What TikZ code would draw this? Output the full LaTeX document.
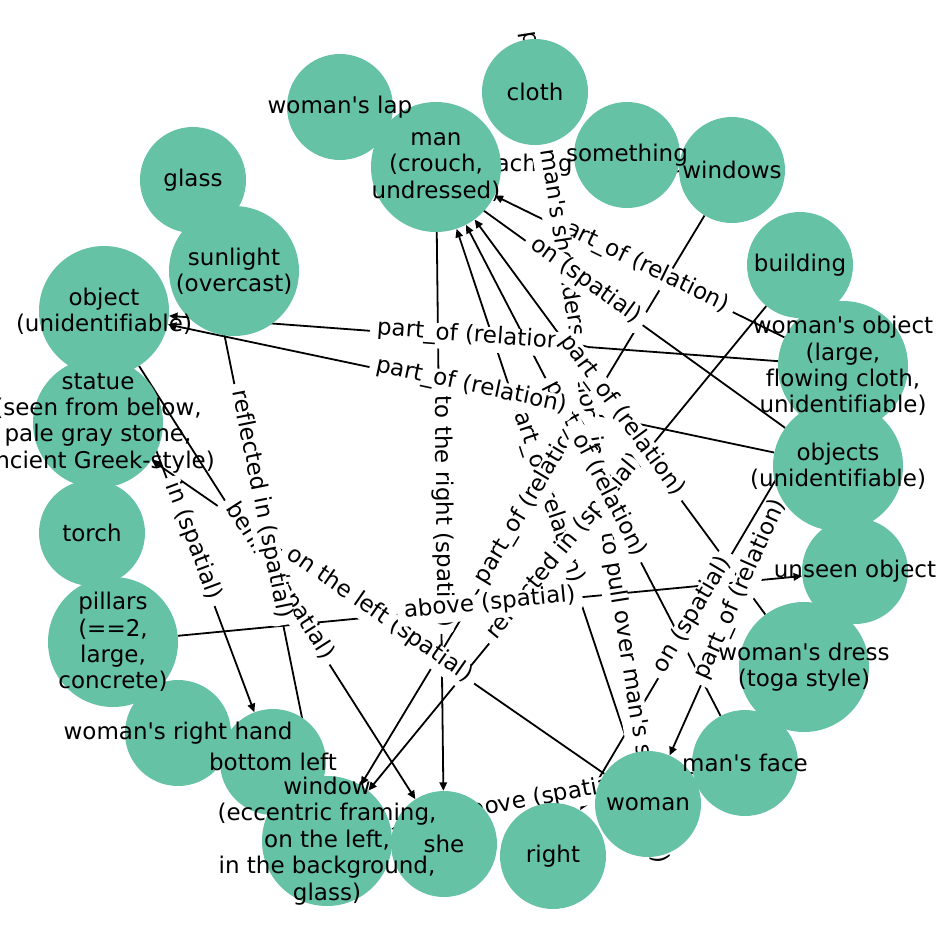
\documentclass[tikz,border=0pt]{standalone}
\usepackage{fontspec}
\setmainfont{DejaVu Sans}[Ligatures={TeXOff,CommonOff}]
\usetikzlibrary{arrows.meta}
\definecolor{nodegreen}{HTML}{66C2A5}
\begin{document}
\begin{tikzpicture}[x=1pt,y=-1pt,
  font=\fontsize{23pt}{26.4pt}\selectfont,
  vtx/.style={circle,inner sep=0pt,minimum size=#1,draw=none},
  edge/.style={line width=1.8pt,-{Triangle[length=8.5pt,width=7.5pt]}},
  elabel/.style={fill=white,rounded corners=6pt,inner sep=6.8pt,sloped,midway,
    text height=0.93em,text depth=0.24em},
  vtext/.style={align=center,inner sep=0pt}]
\useasboundingbox (0,0) rectangle (948,948);
% ---- named (invisible) vertices ----
\node[vtx=106pt] (lap) at (340,107) {};
\node[vtx=130pt] (man) at (436,167) {};
\node[vtx=106pt] (cloth) at (535,92) {};
\node[vtx=106pt] (something) at (627,155) {};
\node[vtx=106pt] (windows) at (732,170) {};
\node[vtx=106pt] (building) at (800,265) {};
\node[vtx=130pt] (wobj) at (843,366) {};
\node[vtx=130pt] (objs) at (838,466) {};
\node[vtx=106pt] (unseen) at (855,571) {};
\node[vtx=130pt] (dress) at (804,667) {};
\node[vtx=106pt] (face) at (745,763) {};
\node[vtx=106pt] (woman) at (648,804) {};
\node[vtx=106pt] (right) at (553,856) {};
\node[vtx=106pt] (she) at (444,844) {};
\node[vtx=130pt] (window) at (327,841) {};
\node[vtx=106pt] (bleft) at (273,762) {};
\node[vtx=106pt] (hand) at (178,733) {};
\node[vtx=130pt] (pillars) at (113,642) {};
\node[vtx=106pt] (torch) at (92,533) {};
\node[vtx=130pt] (statue) at (98,423) {};
\node[vtx=130pt] (object) at (104,311) {};
\node[vtx=106pt] (glass) at (193,180) {};
\node[vtx=130pt] (sunlight) at (234,271) {};
% ---- edges ----
\foreach \s/\t in {wobj/man, man/windows, cloth/woman, objs/lap, object/she,
  object/bleft, woman/statue, glass/window, man/she, woman/man, windows/window,
  building/window, face/man, wobj/object, objs/object, dress/man, pillars/unseen,
  face/window, wobj/right, wobj/woman}
  \draw[edge] (\s) -- (\t);
% ---- edge labels ----
\path (wobj) -- (man) node[elabel] {part\_of (relation)};
\path (man) -- (windows) node[elabel] {reaching for (action)};
\path (cloth) -- (woman) node[elabel] {placed on man's shoulders (action, in order to pull over man's shoulders)};
\path (objs) -- (lap) node[elabel] {on (spatial)};
\path (object) -- (she) node[elabel] {behind (spatial)};
\path (object) -- (bleft) node[elabel] {in (spatial)};
\path (woman) -- (statue) node[elabel] {on the left (spatial)};
\path (glass) -- (window) node[elabel] {reflected in (spatial)};
\path (man) -- (she) node[elabel] {to the right (spatial)};
\path (woman) -- (man) node[elabel] {part\_of (relation)};
\path (windows) -- (window) node[elabel] {part\_of (relation)};
\path (building) -- (window) node[elabel] {reflected in (spatial)};
\path (face) -- (man) node[elabel] {part\_of (relation)};
\path (wobj) -- (object) node[elabel] {part\_of (relation)};
\path (objs) -- (object) node[elabel] {part\_of (relation)};
\path (dress) -- (man) node[elabel] {part\_of (relation)};
\path (pillars) -- (unseen) node[elabel] {above (spatial)};
\path (face) -- (window) node[elabel] {above (spatial)};
\path (wobj) -- (right) node[elabel] {on (spatial)};
\path (wobj) -- (woman) node[elabel] {part\_of (relation)};
% ---- vertex discs ----
\foreach \n/\r in {lap/53, man/65, cloth/53, something/53, windows/53, building/53,
  wobj/65, objs/65, unseen/53, dress/65, face/53, woman/53, right/53, she/53,
  window/65, bleft/53, hand/53, pillars/65, torch/53, statue/65, object/65,
  glass/53, sunlight/65}
  \fill[nodegreen] (\n.center) circle[radius=\r pt];
% ---- vertex texts ----
\node[vtext] at (lap) {woman's lap};
\node[vtext] at (man) {man\\(crouch,\\undressed)};
\node[vtext] at (cloth) {cloth};
\node[vtext] at (something) {something};
\node[vtext] at (windows) {windows};
\node[vtext] at (building) {building};
\node[vtext] at (wobj) {woman's object\\(large,\\flowing cloth,\\unidentifiable)};
\node[vtext] at (objs) {objects\\(unidentifiable)};
\node[vtext] at (unseen) {unseen object};
\node[vtext] at (dress) {woman's dress\\(toga style)};
\node[vtext] at (face) {man's face};
\node[vtext] at (woman) {woman};
\node[vtext] at (right) {right};
\node[vtext] at (she) {she};
\node[vtext] at (window) {window\\(eccentric framing,\\on the left,\\in the background,\\glass)};
\node[vtext] at (bleft) {bottom left};
\node[vtext] at (hand) {woman's right hand};
\node[vtext] at (pillars) {pillars\\(==2,\\large,\\concrete)};
\node[vtext] at (torch) {torch};
\node[vtext] at (statue) {statue\\(seen from below,\\pale gray stone,\\ancient Greek-style)};
\node[vtext] at (object) {object\\(unidentifiable)};
\node[vtext] at (glass) {glass};
\node[vtext] at (sunlight) {sunlight\\(overcast)};
\end{tikzpicture}
\end{document}
